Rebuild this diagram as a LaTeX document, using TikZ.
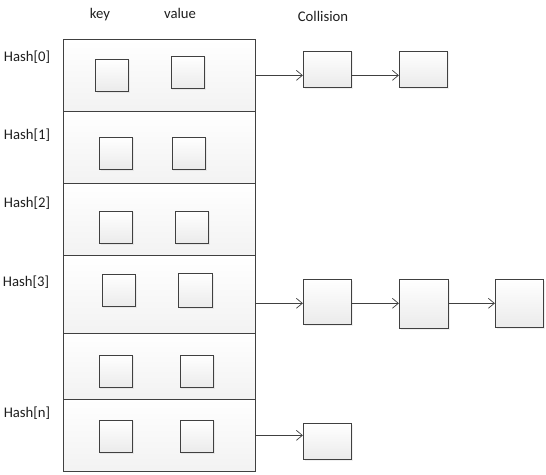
\documentclass[tikz,border=0pt]{standalone}
\usepackage{fontspec}
\setmainfont{Carlito}
\usetikzlibrary{arrows.meta}
\usetikzlibrary{shadows}
\definecolor{linegray}{RGB}{64,64,64}
\definecolor{textgray}{RGB}{30,30,30}

\begin{document}
\begin{tikzpicture}[x=1pt,y=-1pt,line width=0.8pt,
    row node/.style={rectangle,draw=linegray,top color=white,bottom color=black!5,minimum width=192.4pt,inner sep=0pt},
    cell node/.style={rectangle,draw=linegray,top color=white,bottom color=black!8,minimum width=33.4pt,minimum height=32.3pt,inner sep=0pt,
      drop shadow={opacity=0.12,shadow xshift=1.2pt,shadow yshift=-1.2pt}},
    chain node/.style={rectangle,draw=linegray,top color=white,bottom color=black!8,minimum width=48pt,minimum height=36.3pt,inner sep=0pt,
      drop shadow={opacity=0.12,shadow xshift=1.2pt,shadow yshift=-1.2pt}},
    label node/.style={font=\fontsize{14.7}{17}\selectfont,text=textgray,inner sep=0pt},
    link/.style={-{Straight Barb[length=6pt,width=10pt]},draw=linegray,line width=0.7pt}]
   \useasboundingbox (0,0) rectangle (546,474);

   % column titles
   \node[label node] (keytitle) at (100,15) {key};
   \node[label node] (valuetitle) at (180,13) {value};
   \node[label node] (colltitle) at (323,16) {Collision};

   % hash table rows
   \node[row node,minimum height=71.7pt] (row0) at (159.5,75.35) {};
   \node[row node,minimum height=72.3pt] (row1) at (159.5,147.35) {};
   \node[row node,minimum height=72.2pt] (row2) at (159.5,219.6) {};
   \node[row node,minimum height=77.6pt] (row3) at (159.5,294.5) {};
   \node[row node,minimum height=65.7pt] (row4) at (159.5,366.15) {};
   \node[row node,minimum height=72.7pt] (row5) at (159.5,435.35) {};

   % row labels
   \node[label node] (hash0) at (27,57) {Hash[0]};
   \node[label node] (hash1) at (27,135) {Hash[1]};
   \node[label node] (hash2) at (27,203) {Hash[2]};
   \node[label node] (hash3) at (26,282) {Hash[3]};
   \node[label node] (hashn) at (27,413) {Hash[n]};

   % key / value cells
   \node[cell node] (key0) at (112,75.3) {};
   \node[cell node] (val0) at (187.7,72.2) {};
   \node[cell node] (key1) at (116,153.2) {};
   \node[cell node] (val1) at (188.8,153.2) {};
   \node[cell node] (key2) at (116,227.2) {};
   \node[cell node] (val2) at (191.8,227.2) {};
   \node[cell node] (key3) at (118.8,290.5) {};
   \node[cell node,minimum width=34.4pt,minimum height=34.4pt] (val3) at (195.5,290.5) {};
   \node[cell node] (key4) at (115.7,371.2) {};
   \node[cell node] (val4) at (196.7,371.2) {};
   \node[cell node] (key5) at (115.7,436.2) {};
   \node[cell node] (val5) at (196.7,436.2) {};

   % collision chains
   \node[chain node] (c00) at (327.3,69.2) {};
   \node[chain node] (c01) at (423.3,69.2) {};
   \node[chain node,minimum height=45pt] (c30) at (327.3,301.8) {};
   \node[chain node,minimum width=49.4pt,minimum height=49pt] (c31) at (424,303.8) {};
   \node[chain node,minimum height=48pt] (c32) at (519.3,303.3) {};
   \node[chain node,minimum width=48.4pt,minimum height=36pt] (cn0) at (327.5,441.3) {};

   \draw[link] (row0.east) -- (c00.west |- row0.east);
   \draw[link] (c00.east |- row0.east) -- (c01.west |- row0.east);
   \draw[link] (row3.east |- c32.west) -- (c30.west |- c32.west);
   \draw[link] (c30.east |- c32.west) -- (c31.west |- c32.west);
   \draw[link] (c31.east |- c32.west) -- (c32.west);
   \draw[link] (row5.east) -- (cn0.west |- row5.east);
  \end{tikzpicture}
\end{document}
